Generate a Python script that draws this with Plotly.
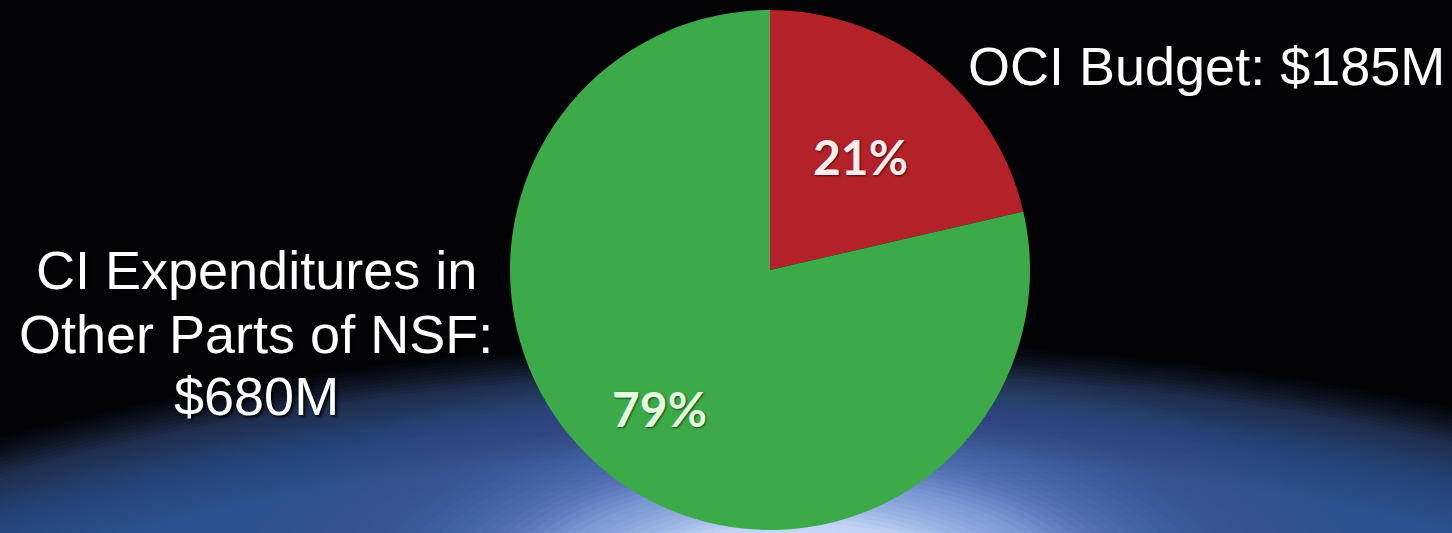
import plotly.graph_objects as go
import numpy as np

# ---- data ----
slice_labels = ["OCI Budget", "CI Expenditures in Other Parts of NSF"]
slice_values = [185, 680]          # $M
slice_colors = ["#B22228", "#3DAA4A"]
label_text_colors = ["#FFEDED", "#E2FFDC"]
callout_right = "OCI Budget: $185M"
callout_left_lines = ["CI Expenditures in", "Other Parts of NSF:", "$680M"]

W, H = 1452, 533

def px(x):
    return x / W

def py(y):
    return 1 - y / H

# pie geometry (pixels)
PCX, PCY, PR = 770, 270, 260

fig = go.Figure()

fig.add_trace(go.Pie(
    labels=slice_labels,
    values=slice_values,
    sort=False,
    direction="clockwise",
    rotation=0,
    marker=dict(colors=slice_colors, line=dict(width=0)),
    textinfo="none",
    hoverinfo="label+value+percent",
    showlegend=False,
    domain=dict(x=[px(PCX - PR), px(PCX + PR)], y=[py(PCY + PR), py(PCY - PR)]),
))

# percent labels placed along each slice's mid-angle
total = sum(slice_values)
label_radius_frac = [0.56, 0.68]
cum = 0.0
annotations = []
for v, col, rf in zip(slice_values, label_text_colors, label_radius_frac):
    mid = (cum + v / 2) / total * 2 * np.pi
    cum += v
    lx = PCX + rf * PR * np.sin(mid)
    ly = PCY - rf * PR * np.cos(mid)
    annotations.append(dict(
        text="%d%%" % round(100 * v / total), xref="paper", yref="paper",
        x=px(lx), y=py(ly), xanchor="center", yanchor="middle",
        showarrow=False,
        font=dict(family="Lato", size=48, color=col, weight="bold",
                  shadow="1px 1px 2px rgba(0,0,0,0.6)"),
    ))

# ---- background: dark atmosphere arc + bright glow ----
shapes = []

def ramp_rgb(t, ts, cs):
    order = np.argsort(ts)
    tsa = np.array(ts)[order]
    return tuple(
        int(round(np.interp(t, tsa, np.array([c[i] for c in cs])[order])))
        for i in range(3))

# atmosphere arc
acx, acy, AA, AB = 790, 1000, 1520, 662
a_s = [1.0, 0.975, 0.95, 0.9, 0.83, 0.8]
a_c = [(3, 3, 6), (15, 20, 35), (30, 45, 75), (35, 65, 115), (42, 82, 142), (42, 82, 142)]
for s in np.arange(1.0, 0.7999, -0.005):
    shapes.append(dict(
        type="circle", xref="paper", yref="paper", layer="below",
        x0=px(acx - AA * s), x1=px(acx + AA * s),
        y0=py(acy + AB * s), y1=py(acy - AB * s),
        fillcolor="rgb(%d,%d,%d)" % ramp_rgb(s, a_s, a_c), line=dict(width=0),
    ))

# bright glow, built from translucent layers so its edge fades out
gcx, gcy, GA, GB = 800, 580, 520, 200
g_r = [1.15, 0.9, 0.8, 0.65, 0.5, 0.3, 0.15]
g_f = [0.0, 0.18, 0.29, 0.51, 0.78, 0.97, 1.0]
gc_r = [1.15, 0.8, 0.5, 0.3, 0.15]
gc_c = [(95, 140, 215), (100, 145, 220), (175, 200, 245), (210, 226, 253), (214, 229, 254)]
prev_f = 0.0
for r in np.arange(1.13, 0.1499, -0.02):
    f = float(np.interp(r, g_r[::-1], g_f[::-1]))
    a = (f - prev_f) / (1 - prev_f) if prev_f < 1 else 0
    prev_f = f
    if a <= 0:
        continue
    c = ramp_rgb(r, gc_r, gc_c)
    shapes.append(dict(
        type="circle", xref="paper", yref="paper", layer="below",
        x0=px(gcx - GA * r), x1=px(gcx + GA * r),
        y0=py(gcy + GB * r), y1=py(gcy - GB * r),
        fillcolor="rgba(%d,%d,%d,%.4f)" % (c + (a,)), line=dict(width=0),
    ))

txt_font = dict(family="Liberation Sans, Arial", size=54, color="white",
                shadow="2px 2px 3px rgba(0,0,0,0.9)")
annotations.append(dict(
    text=callout_right, xref="paper", yref="paper",
    x=px(1206), y=py(66), xanchor="center", yanchor="middle",
    showarrow=False, font=txt_font,
))
for line, yc in zip(callout_left_lines, [270, 334, 396]):
    annotations.append(dict(
        text=line, xref="paper", yref="paper",
        x=px(256), y=py(yc), xanchor="center", yanchor="middle",
        showarrow=False, font=txt_font,
    ))

fig.update_layout(
    width=W, height=H,
    margin=dict(l=0, r=0, t=0, b=0),
    paper_bgcolor="#030305",
    plot_bgcolor="#030305",
    shapes=shapes,
    annotations=annotations,
)

fig.write_html("out.html")
